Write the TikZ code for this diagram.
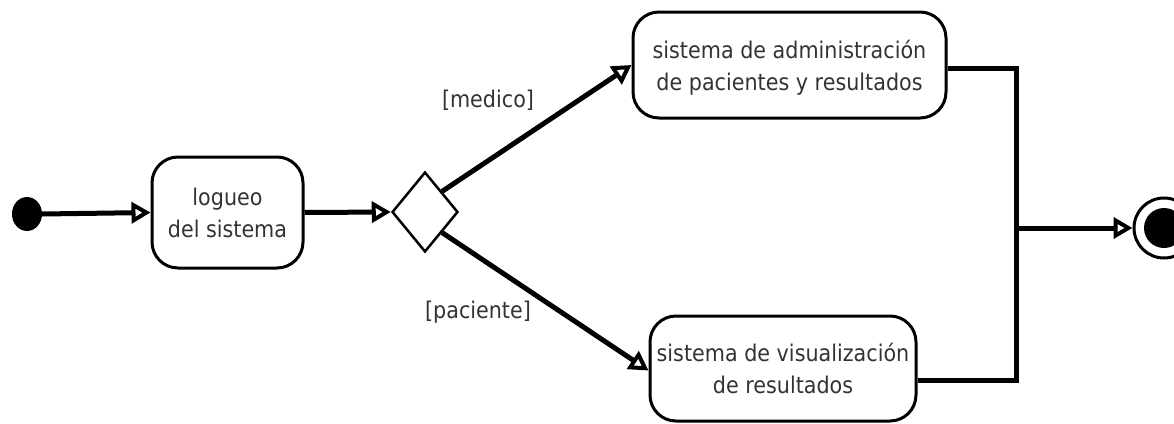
\documentclass[tikz,border=0pt]{standalone}
\usepackage{fontspec}
\setmainfont{DejaVu Sans}[FakeStretch=0.9]
\usetikzlibrary{arrows.meta,shapes.geometric}
\begin{document}
\begin{tikzpicture}[x=1pt,y=-1pt,
  txt/.style={text=black!80, font=\fontsize{23}{32}\selectfont, align=center},
  act/.style={draw, line width=3pt, rounded corners=26pt, inner sep=0pt, txt},
  flow/.style={line width=5pt, -{Triangle[open,length=19pt,width=21pt,line width=4pt]}},
  plain/.style={line width=5pt}]
\useasboundingbox (0,0) rectangle (1174,423);
\node[fill=black, ellipse, minimum width=30pt, minimum height=34pt, inner sep=0pt] (ini) at (27,214) {};
\node[act, minimum width=151pt, minimum height=111pt] (log) at (227.5,212.5) {logueo\\del sistema};
\node[draw, line width=2.5pt, diamond, aspect=0.825, minimum width=66pt, minimum height=80pt, inner sep=0pt] (dec) at (425,212) {};
\node[act, minimum width=313pt, minimum height=106pt, text depth=-8pt] (adm) at (789.5,65) {sistema de administración\\de pacientes y resultados};
\node[act, minimum width=266pt, minimum height=105pt] (vis) at (783,368.5) {sistema de visualización\\de resultados};
\node[draw, circle, line width=3pt, minimum size=60pt, inner sep=0pt] (fin) at (1164,228) {};
\node[fill=black, circle, minimum size=40pt, inner sep=0pt] (finin) at (fin.center) {};
\coordinate (j1) at (1016,68);
\coordinate (j2) at (1016,380);
\coordinate (jm) at (1016,228);
\draw[flow] (ini.east) -- (log.west);
\draw[flow] (log.east) -- (dec.west);
\draw[flow] (dec.north east) -- (adm.west);
\draw[flow] (dec.south east) -- ([yshift=-2pt]vis.west);
\draw[plain] (adm.east |- j1) -- (j1) -- (j2) -- (vis.east |- j2);
\draw[flow] (jm) -- (fin.west);
\node[txt] (lm) at (488,100) {[medico]};
\node[txt] (lp) at (478,312) {[paciente]};
\end{tikzpicture}
\end{document}
